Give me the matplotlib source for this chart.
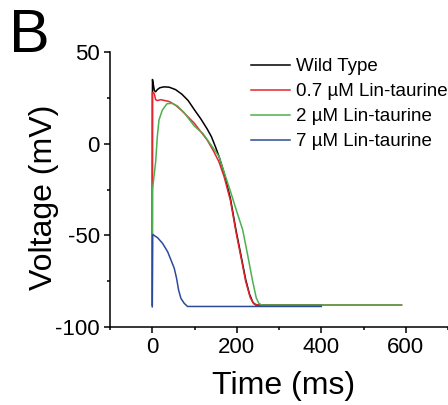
import matplotlib
matplotlib.use("Agg")
import matplotlib.pyplot as plt
from matplotlib.ticker import MultipleLocator

plt.rcParams['font.family'] = ['Liberation Sans', 'DejaVu Sans']
plt.rcParams['axes.unicode_minus'] = False

# ---- data (time in ms, voltage in mV) ----
wt_t = [0, 0.5, 2, 5, 8, 12, 18, 28, 40, 55, 70, 85, 100, 115, 130, 140, 150, 158,
        170, 185, 198, 210, 221, 230, 238, 245, 400]
wt_v = [-88, 35, 33, 29, 28.3, 29.5, 30.5, 31, 30.8, 29.5, 27, 23.5, 18.4, 13.5, 8, 3.8,
        -2, -7, -16, -30, -47, -61, -74, -82, -86.5, -88, -88]

red_t = [0, 0.3, 3, 5, 8, 12, 20, 30, 40, 55, 70, 85, 100, 115, 130, 145, 158, 170,
         185, 198, 210, 221, 232, 240, 250, 590]
red_v = [-88, 28, 28, 27, 24, 23.5, 24, 23.5, 23, 21, 18, 14.5, 11, 6.5, 2, -4, -10, -18,
         -31, -48, -62, -75, -84, -87.3, -88, -88]

green_t = [0, 0.3, 2, 5, 8, 12, 16, 24, 35, 47, 60, 75, 100, 120, 140, 158, 170, 185,
           200, 214, 226, 237, 246, 252, 258, 590]
green_v = [-88, -25, -22, -16, -10, 4, 13, 18.4, 21.8, 22, 20.5, 17, 9.5, 5.5, -1, -7,
           -15.5, -26, -37, -47, -61, -74.4, -84, -87, -88, -88]

blue_t = [0, 0.8, 12.6, 24.5, 36.3, 44.2, 52.1, 57.6, 62.3, 67.8, 75.7, 83.5, 400]
blue_v = [-89, -49.5, -51.3, -54.4, -58.9, -63.4, -68, -73.5, -79.8, -84.4, -87.1, -88.8,
          -88.8]

labels = ["Wild Type", "0.7 \u00b5M Lin-taurine", "2 \u00b5M Lin-taurine", "7 \u00b5M Lin-taurine"]
colors = ["#000000", "#e3262b", "#4cb04f", "#2c4b97"]

x_ticks = [0, 200, 400, 600]
y_ticks = [-100, -50, 0, 50]

fig = plt.figure(figsize=(4.48, 4.05), dpi=100)
W, H = 448, 405
left, right, top, bottom = 110, 456.5, 52, 327
ax = fig.add_axes([left / W, 1 - bottom / H, (right - left) / W, (bottom - top) / H])

series = [(wt_t, wt_v), (red_t, red_v), (green_t, green_v), (blue_t, blue_v)]
for (t, v), c, lab in zip(series, colors, labels):
    ax.plot(t, v, color=c, lw=1.1, label=lab)

ax.set_xlim(-100, 720)
ax.set_ylim(-100, 50)
ax.set_xticks(x_ticks)
ax.set_yticks(y_ticks)
ax.xaxis.set_minor_locator(MultipleLocator(100))
ax.yaxis.set_minor_locator(MultipleLocator(25))
for s in ["top", "right"]:
    ax.spines[s].set_visible(False)
for s in ["left", "bottom"]:
    ax.spines[s].set_linewidth(1.1)
ax.tick_params(which="major", length=4.3, width=1.1, labelsize=16, pad=3.0, direction="out")
ax.tick_params(which="minor", length=2.3, width=1.1, direction="out")

fig.text(283.8 / W, 1 - 394 / H, "Time (ms)", fontsize=23, ha="center", va="baseline")
fig.text(52 / W, 1 - 197 / H, "Voltage (mV)", fontsize=23, ha="center", va="baseline",
         rotation=90, rotation_mode="anchor")
fig.text(9 / W, 1 - 52 / H, "B", fontsize=44, ha="left", va="baseline")

leg = ax.legend(loc="upper left", bbox_to_anchor=(251 / W, 1 - 58 / H),
                bbox_transform=fig.transFigure,
                frameon=False, fontsize=13.5, handlelength=2.1, handletextpad=0.3,
                labelspacing=0.42, borderaxespad=0, borderpad=0)

fig.savefig("out.png", dpi=100)
